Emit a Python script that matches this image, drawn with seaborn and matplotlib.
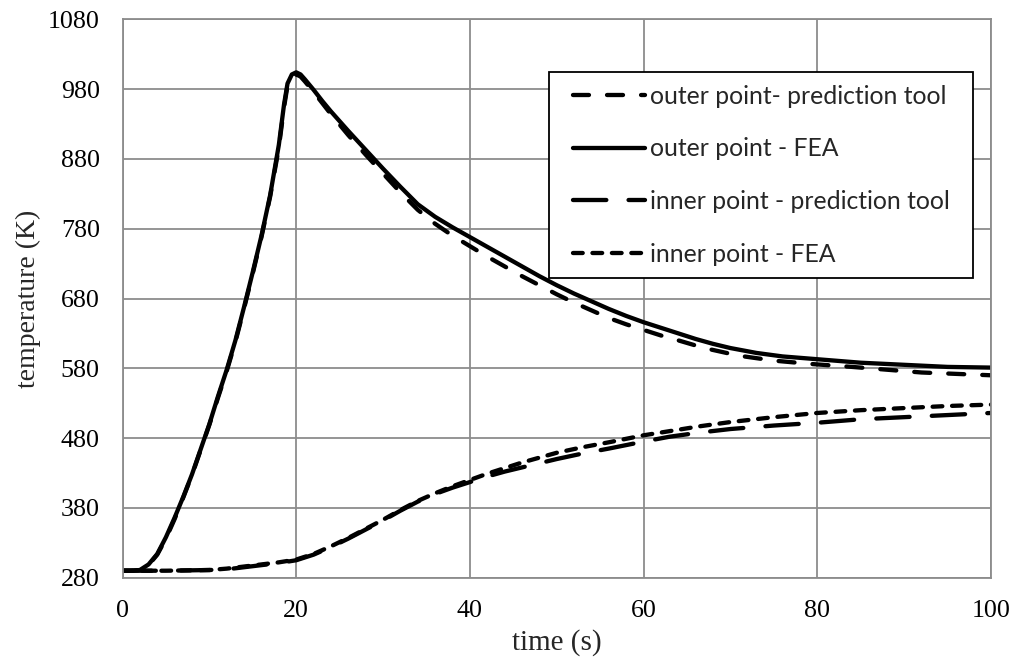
import matplotlib
matplotlib.use("Agg")
import matplotlib.pyplot as plt
from matplotlib.patches import Rectangle
import seaborn as sns
import pandas as pd

# Outer point: FEA result
outer_fea_t = [0, 1, 2, 3, 4, 5, 6, 7, 8, 9, 10, 11, 12, 13, 14, 15, 16, 17, 18,
               18.6, 19, 19.5, 20, 20.5, 21, 22, 23, 24, 25, 26, 28, 30, 32, 34,
               36, 38, 40, 42, 44, 46, 48, 50, 52, 54, 56, 58, 60, 62, 64, 66,
               68, 70, 73, 76, 80, 85, 90, 95, 100]
outer_fea_T = [290, 290, 291, 299, 314, 338, 366, 396, 428, 464, 500, 540, 578,
               620, 668, 718, 770, 828, 900, 958, 988, 1001, 1004, 1001, 994,
               979, 963, 948, 934, 920, 893, 866, 840, 815, 797, 782, 768, 754,
               740, 726, 712, 699, 687, 676, 665, 655, 646, 638, 630, 622, 615,
               609, 602, 597, 593, 588, 585, 582, 581]

# Outer point: prediction tool
outer_pred_t = [0, 1, 2, 3, 4, 5, 6, 7, 8, 9, 10, 11, 12, 13, 14, 15, 16, 17, 18,
                18.6, 19, 19.5, 20, 20.5, 21, 22, 24, 26, 28, 30, 32, 34, 36,
                38, 40, 42, 44, 46, 48, 50, 52, 54, 56, 58, 60, 62, 64, 67, 71,
                75, 79.5, 84, 88, 92, 96, 100]
outer_pred_T = [290, 290, 291, 298, 313, 336, 364, 395, 427, 463, 499, 538, 576,
                618, 666, 716, 768, 826, 896, 954, 985, 998, 1001, 998, 991,
                976, 944, 914, 886, 859, 832, 807, 787, 770, 755, 740, 726, 712,
                699, 686, 674, 663, 652, 643, 635, 627, 620, 609, 598, 591, 586,
                582, 578, 574, 572, 570]

# Inner point: prediction tool
inner_pred_t = [0, 5, 10, 12, 14, 16, 18, 20, 22, 24, 26, 28, 30, 32, 34, 36, 38,
                40, 42, 44, 46, 48, 50, 53, 56, 60, 63, 66.5, 70, 75, 80, 85,
                90, 95, 100]
inner_pred_T = [290, 290, 291, 292, 295, 298, 301, 305, 313, 324, 336, 349, 362,
                376, 389, 400, 409, 417, 425, 432, 438, 444, 450, 458, 465, 475,
                482, 488, 493, 498, 502, 507, 510, 513, 516]

# Inner point: FEA result
inner_fea_t = [0, 5, 10, 12, 14, 16, 18, 20, 22, 24, 26, 28, 30, 32, 34, 36, 38,
               40, 42, 44, 46, 48, 50, 53, 56, 60, 63, 66.5, 70, 75, 80, 85, 90,
               95, 100]
inner_fea_T = [290, 290, 291, 293, 296, 299, 302, 306, 314, 325, 337, 350, 363,
               377, 390, 401, 411, 420, 429, 437, 445, 452, 459, 467, 474, 484,
               490, 497, 503, 510, 516, 520, 523, 526, 528]

labels = ["outer point- prediction tool", "outer point - FEA",
          "inner point - prediction tool", "inner point - FEA"]

series = [
    (outer_pred_t, outer_pred_T, labels[0], (0, (11.5, 13.0))),
    (outer_fea_t, outer_fea_T, labels[1], "-"),
    (inner_pred_t, inner_pred_T, labels[2], (0, (24.0, 16.0))),
    (inner_fea_t, inner_fea_T, labels[3], (0, (7.0, 7.0))),
]

sns.set_theme(style="white")
plt.rcParams["lines.scale_dashes"] = False
plt.rcParams["font.family"] = ["Liberation Serif", "DejaVu Serif"]

W, H = 1014, 668
fig = plt.figure(figsize=(W / 100, H / 100), dpi=100)
ax = fig.add_axes([122.5 / W, 1 - 577.7 / H, (991 - 122.5) / W, (577.7 - 19.3) / H])

for t, T, lab, ls in series:
    df = pd.DataFrame({"time": t, "temp": T})
    sns.lineplot(data=df, x="time", y="temp", ax=ax, color="black",
                 linewidth=3.1, linestyle=ls, label=lab,
                 dash_capstyle="round", solid_capstyle="round",
                 estimator=None, sort=False)

grid_c = "#8c8c8c"
ax.set_xlim(0, 100)
ax.set_ylim(280, 1080)
ax.set_xticks(range(0, 101, 20))
ax.set_yticks(range(280, 1081, 100))
ax.grid(True, color=grid_c, linewidth=1.3)
ax.set_axisbelow(True)
for s in ax.spines.values():
    s.set_color(grid_c)
    s.set_linewidth(1.3)
ax.tick_params(axis="both", which="major", direction="out", length=5.8,
               width=1.3, color=grid_c, labelsize=18.7, labelcolor="black")
ax.tick_params(axis="y", pad=10.5)
ax.tick_params(axis="x", pad=10)
ax.set_xlabel("time (s)", fontsize=21, labelpad=5)
ax.set_ylabel("temperature (K)", fontsize=20, labelpad=5)

# Legend box drawn as a plain black rectangle, entries placed inside it
box = Rectangle((549 / W, 1 - 278 / H), (973 - 549) / W, (278 - 72) / H,
                transform=fig.transFigure, facecolor="white",
                edgecolor="black", linewidth=1.3, zorder=4, clip_on=False)
ax.add_patch(box)
leg = ax.legend(loc="center left", bbox_to_anchor=(573 / W, 1 - 175 / H),
                bbox_transform=fig.transFigure, borderaxespad=0,
                frameon=False, borderpad=0,
                prop={"family": "Lato", "size": 17.8},
                handlelength=2.9, handletextpad=0.22, labelspacing=1.2)
leg.set_zorder(5)

fig.savefig("out.png", dpi=100)
